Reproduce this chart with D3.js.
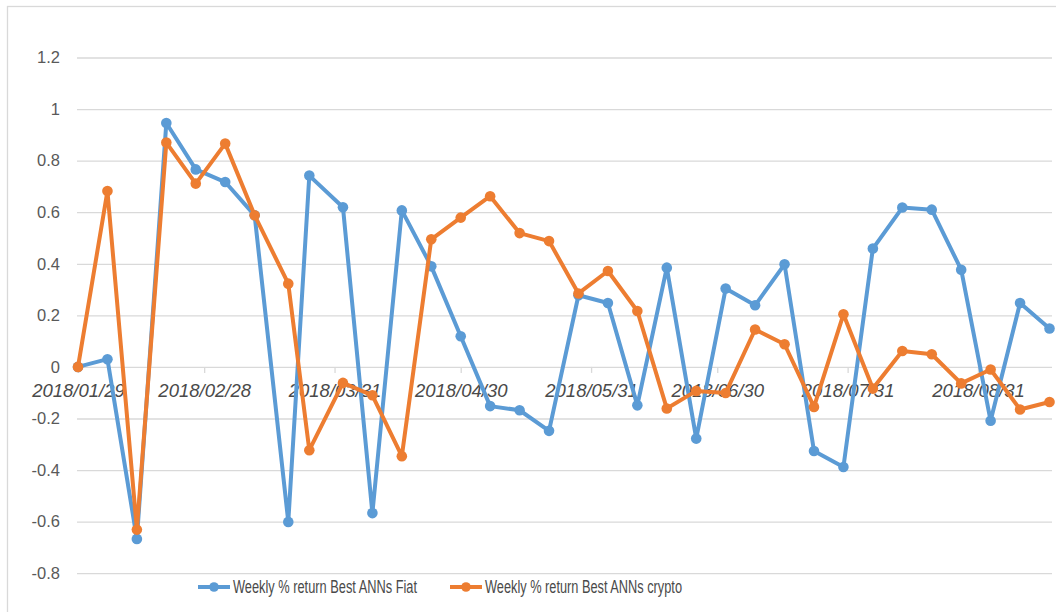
<!DOCTYPE html>
<html lang="en">
<head>
    <meta charset="UTF-8">
    <title>Weekly % return Best ANNs</title>
    <script src="https://d3js.org/d3.v7.min.js"></script>
    <style>
        body { margin: 0; background: #fff; }
        svg { display: block; }
    </style>
</head>
<body>
    <svg id="chart" width="1056" height="612"></svg>
    <script>
        // data
        const dates = ["2018/01/29", "2018/02/05", "2018/02/12", "2018/02/19", "2018/02/26", "2018/03/05",
            "2018/03/12", "2018/03/20", "2018/03/25", "2018/04/02", "2018/04/09", "2018/04/16", "2018/04/23",
            "2018/04/30", "2018/05/07", "2018/05/14", "2018/05/21", "2018/05/28", "2018/06/04", "2018/06/11",
            "2018/06/18", "2018/06/25", "2018/07/02", "2018/07/09", "2018/07/16", "2018/07/23", "2018/07/30",
            "2018/08/06", "2018/08/13", "2018/08/20", "2018/08/27", "2018/09/03", "2018/09/10", "2018/09/17"];

        const fiat = [0, 0.03, -0.667, 0.946, 0.766, 0.717, 0.588, -0.601, 0.742, 0.619, -0.567, 0.607,
            0.39, 0.119, -0.152, -0.168, -0.248, 0.278, 0.248, -0.149, 0.385, -0.278, 0.304, 0.239,
            0.398, -0.326, -0.388, 0.459, 0.618, 0.61, 0.377, -0.209, 0.248, 0.149];

        const crypto = [0, 0.682, -0.631, 0.87, 0.711, 0.866, 0.588, 0.323, -0.323, -0.062, -0.11, -0.346,
            0.495, 0.579, 0.662, 0.519, 0.488, 0.285, 0.372, 0.217, -0.161, -0.093, -0.101, 0.145,
            0.088, -0.155, 0.204, -0.084, 0.062, 0.049, -0.064, -0.01, -0.165, -0.136];

        const tickDates = ["2018/01/29", "2018/02/28", "2018/03/31", "2018/04/30", "2018/05/31",
            "2018/06/30", "2018/07/31", "2018/08/31"];
        const yTicks = [-0.8, -0.6, -0.4, -0.2, 0, 0.2, 0.4, 0.6, 0.8, 1, 1.2];

        const seriesNames = ["Weekly % return Best ANNs Fiat", "Weekly % return Best ANNs crypto"];
        const seriesColors = ["#5b9bd5", "#ed7d31"];

        const parse = d3.timeParse("%Y/%m/%d");
        const fmt = d3.timeFormat("%Y/%m/%d");

        const svg = d3.select("#chart");
        const textColor = "#595959";
        const gridColor = "#d9d9d9";

        // chart border (runs off the bottom / right of the picture)
        svg.append("rect")
            .attr("x", 7.5).attr("y", 6.5)
            .attr("width", 1060).attr("height", 620)
            .attr("fill", "none")
            .attr("stroke", gridColor)
            .attr("stroke-width", 1.3);

        const plotLeft = 77, plotRight = 1052;

        const x = d3.scaleTime()
            .domain([parse(dates[0]), parse(dates[dates.length - 1])])
            .range([78, 1049.5]);
        const y = d3.scaleLinear().domain([-0.8, 1.2]).range([573.2, 57.5]);

        // gridlines + y labels
        const yAxis = d3.axisLeft(y)
            .tickValues(yTicks)
            .tickSize(-(plotRight - plotLeft))
            .tickPadding(17)
            .tickFormat(d => String(+d.toFixed(1)));

        const yAxisGroup = svg.append("g")
            .attr("transform", `translate(${plotLeft},0)`)
            .call(yAxis);
        yAxisGroup.select(".domain").remove();
        yAxisGroup.selectAll("line")
            .attr("stroke", gridColor)
            .attr("stroke-width", 1.3);
        yAxisGroup.selectAll("text")
            .attr("fill", textColor)
            .style("font-family", "'Liberation Sans', Arial, sans-serif")
            .style("font-size", "16.5px");

        // date axis sits on the zero line
        const xAxis = d3.axisBottom(x)
            .tickValues(tickDates.map(parse))
            .tickSize(6)
            .tickPadding(11)
            .tickFormat(fmt);

        const xAxisGroup = svg.append("g")
            .attr("transform", `translate(0,${y(0)})`)
            .call(xAxis);
        xAxisGroup.select(".domain").remove();
        xAxisGroup.selectAll("line")
            .attr("stroke", gridColor)
            .attr("stroke-width", 1.3);
        xAxisGroup.selectAll("text")
            .attr("fill", "#4a4a4a")
            .style("font-family", "'Liberation Sans', Arial, sans-serif")
            .style("font-style", "italic")
            .style("font-size", "18.5px");

        // lines and markers
        const line = d3.line()
            .x(d => x(d.date))
            .y(d => y(d.value));

        [fiat, crypto].forEach((values, i) => {
            const data = values.map((v, j) => ({date: parse(dates[j]), value: v}));
            const g = svg.append("g").attr("class", "series-" + i);

            g.append("path")
                .datum(data)
                .attr("fill", "none")
                .attr("stroke", seriesColors[i])
                .attr("stroke-width", 4)
                .attr("stroke-linejoin", "round")
                .attr("d", line);

            g.selectAll("circle")
                .data(data)
                .enter()
                .append("circle")
                .attr("cx", d => x(d.date))
                .attr("cy", d => y(d.value))
                .attr("r", 5.3)
                .attr("fill", seriesColors[i]);
        });

        // legend
        const legendItems = [
            {x: 198, width: 184},
            {x: 450, width: 197}
        ];
        const legendY = 587;

        legendItems.forEach((item, i) => {
            const lg = svg.append("g").attr("transform", `translate(${item.x},${legendY})`);
            lg.append("line")
                .attr("x1", 0).attr("x2", 32)
                .attr("stroke", seriesColors[i])
                .attr("stroke-width", 4);
            lg.append("circle")
                .attr("cx", 16)
                .attr("r", 4.8)
                .attr("fill", seriesColors[i]);
            lg.append("text")
                .attr("x", 35)
                .attr("y", 6)
                .attr("fill", "#4a4a4a")
                .attr("textLength", item.width)
                .attr("lengthAdjust", "spacingAndGlyphs")
                .style("font-family", "'Liberation Sans', Arial, sans-serif")
                .style("font-size", "17.5px")
                .text(seriesNames[i]);
        });
    </script>
</body>
</html>
